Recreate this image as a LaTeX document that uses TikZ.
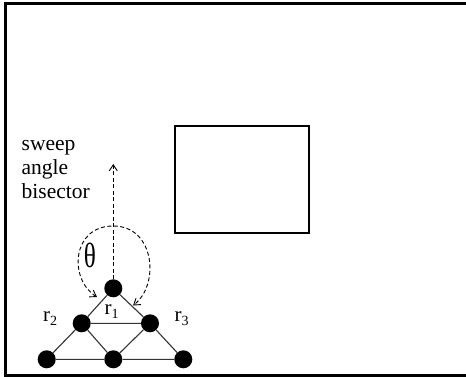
\documentclass[tikz,border=0pt]{standalone}
\usepackage{fontspec}
\setmainfont{Liberation Serif}
\usetikzlibrary{arrows.meta}
\begin{document}
\begin{tikzpicture}[x=1pt,y=-1pt,
  >={Straight Barb[length=6pt,width=8pt]},
  robot/.style={circle,fill=black,inner sep=0pt,minimum size=18pt},
  link/.style={draw=black!80,line width=1.1pt},
  guide/.style={dashed,line width=0.9pt,dash pattern=on 4pt off 2.5pt},
  lbl/.style={inner sep=0pt,anchor=base west,font=\fontsize{21}{21}\selectfont}
]
\useasboundingbox (0,0) rectangle (466,377);
% outer frame, open to the right
\draw[line width=2.6pt] (472,3.5) -- (5.5,3.5) -- (5.5,375.3) -- (472,375.3);
% obstacle
\node[draw,line width=2pt,minimum width=134pt,minimum height=107pt,inner sep=0pt] (box) at (242,179.5) {};

% robot formation
\node[robot] (r1) at (113.3,288.3) {};
\node[robot] (r2) at (81.7,323.3) {};
\node[robot] (r3) at (150,323.3) {};
\node[robot] (b1) at (46.7,359.3) {};
\node[robot] (b2) at (113.3,359.3) {};
\node[robot] (b3) at (183.3,359.3) {};
\draw[link] (r1) -- (r2) (r1) -- (r3) (r2) -- (r3)
  (r2) -- (b1) (r2) -- (b2) (r3) -- (b2) (r3) -- (b3)
  (b1) -- (b2) (b2) -- (b3);

% labels
\newcommand{\rsub}[1]{r\raisebox{-4pt}{\fontsize{14}{14}\selectfont #1}}
\node[lbl] (l1) at (104.5,314.5) {\rsub{1}};
\node[lbl] (l2) at (43,321.5) {\rsub{2}};
\node[lbl] (l3) at (174.5,321.5) {\rsub{3}};

% sweep angle bisector (base anchor sits on the last line)
\coordinate (tip) at (113.3,164);
\draw[guide,->] (r1.north) -- (tip);
\node[inner sep=0pt,anchor=base west,align=left,font=\fontsize{21.5}{24}\selectfont] (txt) at (21.5,198.5)
  {sweep\\angle\\bisector};

% sweep angle
\coordinate (top) at (113.3,226);
\draw[guide,<->]
  (97,297) .. controls (69,280) and (71,226) .. (top)
  .. controls (155,226) and (160,285) .. (133,305.5);
\node[inner sep=0pt,xscale=0.72,font=\fontsize{35}{35}\selectfont] (th) at (90,255.5) {θ};
\end{tikzpicture}
\end{document}
